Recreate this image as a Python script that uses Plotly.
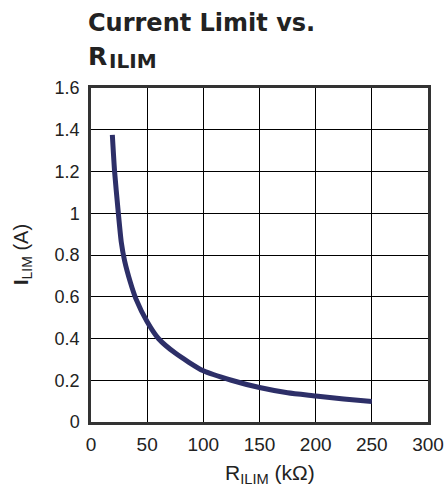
import plotly.graph_objects as go

r_ilim_kohm = [19, 21, 24, 27, 30, 35, 40, 50, 60, 75, 100, 125, 150, 175, 200, 225, 250]
i_lim_a = [1.375, 1.2, 1.02, 0.86, 0.77, 0.67, 0.59, 0.48, 0.40, 0.33, 0.245, 0.20, 0.165, 0.14, 0.125, 0.11, 0.098]

x_ticks = [0, 50, 100, 150, 200, 250, 300]
y_ticks = [0, 0.2, 0.4, 0.6, 0.8, 1.0, 1.2, 1.4, 1.6]
y_tick_labels = ["0", "0.2", "0.4", "0.6", "0.8", "1", "1.2", "1.4", "1.6"]

fig = go.Figure()
fig.add_trace(go.Scatter(
    x=r_ilim_kohm, y=i_lim_a, mode="lines",
    line=dict(color="#2d2f68", width=5, shape="spline", smoothing=0.6),
    hoverinfo="skip", showlegend=False,
))

font = "Liberation Sans, Arial, sans-serif"
tfont = "DejaVu Sans, sans-serif"
ink = "#222222"
fig.update_layout(
    width=444, height=498,
    margin=dict(l=91, r=16, t=88, b=76),
    paper_bgcolor="white", plot_bgcolor="white",
    font=dict(family=font, size=18, color=ink),
    xaxis=dict(
        range=[0, 300], tickvals=x_ticks, ticks="", showgrid=True,
        gridcolor="#000000", gridwidth=1, zeroline=False, automargin=False,
        showline=True, linecolor="#333333", linewidth=2.5, mirror=True,
        ticklabelstandoff=3, tickfont=dict(size=19, color=ink),
    ),
    yaxis=dict(
        range=[0, 1.6], tickvals=y_ticks, ticktext=y_tick_labels, ticks="",
        showgrid=True, gridcolor="#000000", gridwidth=1, zeroline=False, automargin=False,
        showline=True, linecolor="#333333", linewidth=2.5, mirror=True,
        ticklabelstandoff=5, tickfont=dict(size=18, color=ink),
    ),
    annotations=[
        dict(text="<b>Current Limit vs.</b>", xref="paper", yref="paper",
             x=0, y=1, xshift=-5, yshift=81, xanchor="left", yanchor="top",
             showarrow=False, font=dict(size=24, color=ink, family=tfont)),
        dict(text="<b>R</b>", xref="paper", yref="paper",
             x=0, y=1, xshift=-5, yshift=48, xanchor="left", yanchor="top",
             showarrow=False, font=dict(size=25, color=ink, family=tfont)),
        dict(text="<b>ILIM</b>", xref="paper", yref="paper",
             x=0, y=1, xshift=16, yshift=41, xanchor="left", yanchor="top",
             showarrow=False, font=dict(size=20, color=ink, family=tfont)),
        dict(text="R<sub>ILIM</sub> (kΩ)", xref="paper", yref="paper",
             x=0, y=0, xshift=179, yshift=-52, xanchor="center", yanchor="middle",
             showarrow=False, font=dict(size=21, color=ink, family=font)),
        dict(text="<b>I</b><sub>LIM</sub> (A)", xref="paper", yref="paper",
             x=0, y=0.5, xshift=-69, xanchor="center", yanchor="middle", textangle=-90,
             showarrow=False, font=dict(size=20, color=ink, family=font)),
    ],
)

fig.write_html("out.html", config={"displayModeBar": False},
               post_script="document.body.style.margin='0px';")
